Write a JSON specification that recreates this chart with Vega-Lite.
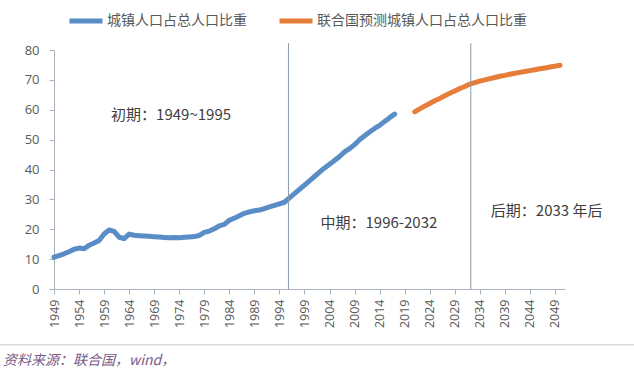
{
  "$schema": "https://vega.github.io/schema/vega-lite/v6.json",
  "width": 511,
  "height": 239,
  "autosize": {"type": "none"},
  "padding": {"left": 54, "top": 50, "right": 69, "bottom": 101},
  "background": "white",
  "config": {
    "view": {"stroke": null},
    "font": "Noto Sans CJK SC",
    "axis": {"labelOverlap": false, "labelFlush": false, "labelBound": false, "grid": false, "tickColor": "#a9b4c0", "domainColor": "#a9b4c0", "labelColor": "#595959", "labelFont": "Open Sans", "tickSize": 5}
  },
  "datasets": {
    "series": [
      {"year": 1949, "pct": 10.64, "series": "城镇人口占总人口比重"},
      {"year": 1950, "pct": 11.18, "series": "城镇人口占总人口比重"},
      {"year": 1951, "pct": 11.78, "series": "城镇人口占总人口比重"},
      {"year": 1952, "pct": 12.46, "series": "城镇人口占总人口比重"},
      {"year": 1953, "pct": 13.31, "series": "城镇人口占总人口比重"},
      {"year": 1954, "pct": 13.69, "series": "城镇人口占总人口比重"},
      {"year": 1955, "pct": 13.48, "series": "城镇人口占总人口比重"},
      {"year": 1956, "pct": 14.62, "series": "城镇人口占总人口比重"},
      {"year": 1957, "pct": 15.39, "series": "城镇人口占总人口比重"},
      {"year": 1958, "pct": 16.25, "series": "城镇人口占总人口比重"},
      {"year": 1959, "pct": 18.41, "series": "城镇人口占总人口比重"},
      {"year": 1960, "pct": 19.75, "series": "城镇人口占总人口比重"},
      {"year": 1961, "pct": 19.29, "series": "城镇人口占总人口比重"},
      {"year": 1962, "pct": 17.33, "series": "城镇人口占总人口比重"},
      {"year": 1963, "pct": 16.84, "series": "城镇人口占总人口比重"},
      {"year": 1964, "pct": 18.37, "series": "城镇人口占总人口比重"},
      {"year": 1965, "pct": 17.98, "series": "城镇人口占总人口比重"},
      {"year": 1966, "pct": 17.86, "series": "城镇人口占总人口比重"},
      {"year": 1967, "pct": 17.74, "series": "城镇人口占总人口比重"},
      {"year": 1968, "pct": 17.62, "series": "城镇人口占总人口比重"},
      {"year": 1969, "pct": 17.50, "series": "城镇人口占总人口比重"},
      {"year": 1970, "pct": 17.38, "series": "城镇人口占总人口比重"},
      {"year": 1971, "pct": 17.26, "series": "城镇人口占总人口比重"},
      {"year": 1972, "pct": 17.13, "series": "城镇人口占总人口比重"},
      {"year": 1973, "pct": 17.20, "series": "城镇人口占总人口比重"},
      {"year": 1974, "pct": 17.16, "series": "城镇人口占总人口比重"},
      {"year": 1975, "pct": 17.34, "series": "城镇人口占总人口比重"},
      {"year": 1976, "pct": 17.44, "series": "城镇人口占总人口比重"},
      {"year": 1977, "pct": 17.55, "series": "城镇人口占总人口比重"},
      {"year": 1978, "pct": 17.92, "series": "城镇人口占总人口比重"},
      {"year": 1979, "pct": 18.96, "series": "城镇人口占总人口比重"},
      {"year": 1980, "pct": 19.39, "series": "城镇人口占总人口比重"},
      {"year": 1981, "pct": 20.16, "series": "城镇人口占总人口比重"},
      {"year": 1982, "pct": 21.13, "series": "城镇人口占总人口比重"},
      {"year": 1983, "pct": 21.62, "series": "城镇人口占总人口比重"},
      {"year": 1984, "pct": 23.01, "series": "城镇人口占总人口比重"},
      {"year": 1985, "pct": 23.71, "series": "城镇人口占总人口比重"},
      {"year": 1986, "pct": 24.52, "series": "城镇人口占总人口比重"},
      {"year": 1987, "pct": 25.32, "series": "城镇人口占总人口比重"},
      {"year": 1988, "pct": 25.81, "series": "城镇人口占总人口比重"},
      {"year": 1989, "pct": 26.21, "series": "城镇人口占总人口比重"},
      {"year": 1990, "pct": 26.41, "series": "城镇人口占总人口比重"},
      {"year": 1991, "pct": 26.94, "series": "城镇人口占总人口比重"},
      {"year": 1992, "pct": 27.46, "series": "城镇人口占总人口比重"},
      {"year": 1993, "pct": 27.99, "series": "城镇人口占总人口比重"},
      {"year": 1994, "pct": 28.51, "series": "城镇人口占总人口比重"},
      {"year": 1995, "pct": 29.04, "series": "城镇人口占总人口比重"},
      {"year": 1996, "pct": 30.48, "series": "城镇人口占总人口比重"},
      {"year": 1997, "pct": 31.91, "series": "城镇人口占总人口比重"},
      {"year": 1998, "pct": 33.35, "series": "城镇人口占总人口比重"},
      {"year": 1999, "pct": 34.78, "series": "城镇人口占总人口比重"},
      {"year": 2000, "pct": 36.22, "series": "城镇人口占总人口比重"},
      {"year": 2001, "pct": 37.66, "series": "城镇人口占总人口比重"},
      {"year": 2002, "pct": 39.09, "series": "城镇人口占总人口比重"},
      {"year": 2003, "pct": 40.53, "series": "城镇人口占总人口比重"},
      {"year": 2004, "pct": 41.76, "series": "城镇人口占总人口比重"},
      {"year": 2005, "pct": 42.99, "series": "城镇人口占总人口比重"},
      {"year": 2006, "pct": 44.34, "series": "城镇人口占总人口比重"},
      {"year": 2007, "pct": 45.89, "series": "城镇人口占总人口比重"},
      {"year": 2008, "pct": 46.99, "series": "城镇人口占总人口比重"},
      {"year": 2009, "pct": 48.34, "series": "城镇人口占总人口比重"},
      {"year": 2010, "pct": 49.95, "series": "城镇人口占总人口比重"},
      {"year": 2011, "pct": 51.27, "series": "城镇人口占总人口比重"},
      {"year": 2012, "pct": 52.57, "series": "城镇人口占总人口比重"},
      {"year": 2013, "pct": 53.73, "series": "城镇人口占总人口比重"},
      {"year": 2014, "pct": 54.77, "series": "城镇人口占总人口比重"},
      {"year": 2015, "pct": 56.10, "series": "城镇人口占总人口比重"},
      {"year": 2016, "pct": 57.35, "series": "城镇人口占总人口比重"},
      {"year": 2017, "pct": 58.52, "series": "城镇人口占总人口比重"},
      {"year": 2021, "pct": 59.3, "series": "联合国预测城镇人口占总人口比重"},
      {"year": 2022, "pct": 60.3, "series": "联合国预测城镇人口占总人口比重"},
      {"year": 2023, "pct": 61.2, "series": "联合国预测城镇人口占总人口比重"},
      {"year": 2024, "pct": 62.1, "series": "联合国预测城镇人口占总人口比重"},
      {"year": 2025, "pct": 63.0, "series": "联合国预测城镇人口占总人口比重"},
      {"year": 2026, "pct": 63.8, "series": "联合国预测城镇人口占总人口比重"},
      {"year": 2027, "pct": 64.7, "series": "联合国预测城镇人口占总人口比重"},
      {"year": 2028, "pct": 65.5, "series": "联合国预测城镇人口占总人口比重"},
      {"year": 2029, "pct": 66.3, "series": "联合国预测城镇人口占总人口比重"},
      {"year": 2030, "pct": 67.1, "series": "联合国预测城镇人口占总人口比重"},
      {"year": 2031, "pct": 67.8, "series": "联合国预测城镇人口占总人口比重"},
      {"year": 2032, "pct": 68.6, "series": "联合国预测城镇人口占总人口比重"},
      {"year": 2033, "pct": 69.1, "series": "联合国预测城镇人口占总人口比重"},
      {"year": 2034, "pct": 69.6, "series": "联合国预测城镇人口占总人口比重"},
      {"year": 2035, "pct": 70.0, "series": "联合国预测城镇人口占总人口比重"},
      {"year": 2036, "pct": 70.4, "series": "联合国预测城镇人口占总人口比重"},
      {"year": 2037, "pct": 70.8, "series": "联合国预测城镇人口占总人口比重"},
      {"year": 2038, "pct": 71.2, "series": "联合国预测城镇人口占总人口比重"},
      {"year": 2039, "pct": 71.5, "series": "联合国预测城镇人口占总人口比重"},
      {"year": 2040, "pct": 71.9, "series": "联合国预测城镇人口占总人口比重"},
      {"year": 2041, "pct": 72.2, "series": "联合国预测城镇人口占总人口比重"},
      {"year": 2042, "pct": 72.5, "series": "联合国预测城镇人口占总人口比重"},
      {"year": 2043, "pct": 72.8, "series": "联合国预测城镇人口占总人口比重"},
      {"year": 2044, "pct": 73.1, "series": "联合国预测城镇人口占总人口比重"},
      {"year": 2045, "pct": 73.4, "series": "联合国预测城镇人口占总人口比重"},
      {"year": 2046, "pct": 73.7, "series": "联合国预测城镇人口占总人口比重"},
      {"year": 2047, "pct": 74.0, "series": "联合国预测城镇人口占总人口比重"},
      {"year": 2048, "pct": 74.3, "series": "联合国预测城镇人口占总人口比重"},
      {"year": 2049, "pct": 74.6, "series": "联合国预测城镇人口占总人口比重"},
      {"year": 2050, "pct": 74.9, "series": "联合国预测城镇人口占总人口比重"}
    ],
    "dividers": [{"year": 1995.8}, {"year": 2032.2}],
    "notes": [
      {"year": 1960.4, "pct": 58.2, "label": "初期：1949~1995"},
      {"year": 2002.2, "pct": 22.1, "label": "中期：1996-2032"},
      {"year": 2036.2, "pct": 26.1, "label": "后期：2033 年后"}
    ]
  },
  "layer": [
    {
      "data": {"name": "series"},
      "mark": {"type": "line", "strokeWidth": 5, "strokeCap": "round", "strokeJoin": "round"},
      "encoding": {
        "x": {
          "field": "year", "type": "quantitative",
          "scale": {"domain": [1949, 2051], "nice": false, "zero": false},
          "axis": {
            "title": null,
            "values": [1949,1954,1959,1964,1969,1974,1979,1984,1989,1994,1999,2004,2009,2014,2019,2024,2029,2034,2039,2044,2049],
            "tickCount": 50,
            "format": "d",
            "labelAngle": -90,
            "labelAlign": "right",
            "labelBaseline": "middle",
            "labelFontSize": 12.5,
            "labelPadding": 5,
            "labelOverlap": false
          }
        },
        "y": {
          "field": "pct", "type": "quantitative",
          "scale": {"domain": [0, 80], "nice": false},
          "axis": {
            "title": null,
            "values": [0,10,20,30,40,50,60,70,80],
            "tickCount": 20,
            "labelFontSize": 13,
            "labelPadding": 10,
            "labelOverlap": false
          }
        },
        "color": {
          "field": "series", "type": "nominal",
          "scale": {
            "domain": ["城镇人口占总人口比重", "联合国预测城镇人口占总人口比重"],
            "range": ["#5a8cc6", "#e67d38"]
          },
          "legend": {
            "title": null,
            "orient": "none",
            "direction": "horizontal",
            "legendX": 13,
            "legendY": -48,
            "symbolType": "stroke",
            "symbolSize": 1089,
            "symbolStrokeWidth": 5,
            "labelFontSize": 14,
            "labelColor": "#595959",
            "labelOffset": 2,
            "labelLimit": 400,
            "columnPadding": 22
          }
        }
      }
    },
    {
      "data": {"name": "dividers"},
      "mark": {"type": "rule", "color": "#8a9bab", "strokeWidth": 1},
      "encoding": {
        "x": {"field": "year", "type": "quantitative"},
        "y": {"datum": 0, "type": "quantitative"},
        "y2": {"datum": 82.3}
      }
    },
    {
      "data": {"name": "notes"},
      "mark": {"type": "text", "align": "left", "baseline": "middle", "fontSize": 15, "color": "#404040"},
      "encoding": {
        "x": {"field": "year", "type": "quantitative"},
        "y": {"field": "pct", "type": "quantitative"},
        "text": {"field": "label"}
      }
    },
    {
      "data": {"values": [{"k": 1}]},
      "mark": {"type": "rule", "color": "#c4c4c4", "strokeWidth": 1},
      "encoding": {
        "x": {"datum": 1938.2, "type": "quantitative"},
        "x2": {"datum": 2065},
        "y": {"datum": -18.7, "type": "quantitative"}
      }
    },
    {
      "data": {"values": [{"label": "资料来源：联合国，wind，"}]},
      "mark": {"type": "text", "align": "left", "baseline": "middle", "fontSize": 14, "fontStyle": "italic", "color": "#7b5b8b"},
      "encoding": {
        "x": {"datum": 1938.8, "type": "quantitative"},
        "y": {"datum": -24.1, "type": "quantitative"},
        "text": {"field": "label"}
      }
    }
  ]
}
